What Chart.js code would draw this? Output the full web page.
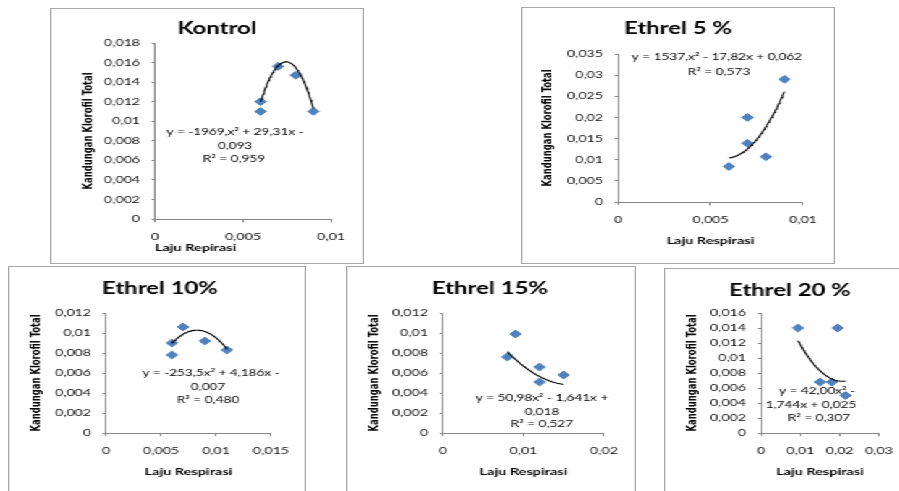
<!DOCTYPE html>
<html>
<head>
<meta charset="utf-8">
<script src="https://cdn.jsdelivr.net/npm/chart.js@4.4.1/dist/chart.umd.min.js"></script>
<style>
  html, body { margin: 0; padding: 0; background: #fff; width: 899px; height: 491px; overflow: hidden; }
  .panel { position: absolute; transform-origin: 0 0; background: #fff; }
  .panel canvas { position: absolute; left: 0; top: 0; }
  .frame { position: absolute; left: 0; top: 0; right: 0; bottom: 0; border: 1px solid #a8a8a8; pointer-events: none; }
</style>
</head>
<body>
<script>
// Laju respirasi (x) vs kandungan klorofil total (y), per perlakuan
const kontrolX = [0.006, 0.006, 0.007, 0.008, 0.009];
const kontrolY = [0.012, 0.011, 0.0156, 0.0147, 0.011];
const kontrolCoef = [-1969, 29.31, -0.093];           // a, b, c of a·x² + b·x + c
const kontrolEq = ['y = -1969,x² + 29,31x -', '0,093', 'R² = 0,959'];
const kontrolXTicks = [0, 0.005, 0.01];
const kontrolYTicks = [0, 0.002, 0.004, 0.006, 0.008, 0.01, 0.012, 0.014, 0.016, 0.018];

const e5X = [0.006, 0.007, 0.007, 0.008, 0.009];
const e5Y = [0.0084, 0.020, 0.0139, 0.0107, 0.029];
const e5Coef = [1537, -17.82, 0.062];
const e5Eq = ['y = 1537,x² - 17,82x + 0,062', 'R² = 0,573'];
const e5XTicks = [0, 0.005, 0.01];
const e5YTicks = [0, 0.005, 0.01, 0.015, 0.02, 0.025, 0.03, 0.035];

const e10X = [0.006, 0.006, 0.007, 0.009, 0.011];
const e10Y = [0.009, 0.0078, 0.0106, 0.0092, 0.0083];
const e10Coef = [-253.5, 4.186, -0.007];
const e10Eq = ['y = -253,5x² + 4,186x -', '0,007', 'R² = 0,480'];
const e10XTicks = [0, 0.005, 0.01, 0.015];
const e10YTicks = [0, 0.002, 0.004, 0.006, 0.008, 0.01, 0.012];

const e15X = [0.008, 0.009, 0.012, 0.012, 0.015];
const e15Y = [0.0076, 0.0099, 0.0066, 0.0051, 0.0058];
const e15Coef = [50.98, -1.641, 0.018];
const e15Eq = ['y = 50,98x² - 1,641x +', '0,018', 'R² = 0,527'];
const e15XTicks = [0, 0.01, 0.02];
const e15YTicks = [0, 0.002, 0.004, 0.006, 0.008, 0.01, 0.012];

const e20X = [0.0094, 0.0195, 0.015, 0.018, 0.0215];
const e20Y = [0.014, 0.014, 0.0068, 0.0068, 0.005];
const e20Coef = [42.00, -1.744, 0.025];
const e20Eq = ['y = 42,00x² -', '1,744x + 0,025', 'R² = 0,307'];
const e20XTicks = [0, 0.01, 0.02, 0.03];
const e20YTicks = [0, 0.002, 0.004, 0.006, 0.008, 0.01, 0.012, 0.014, 0.016];

const yAxisTitle = 'Kandungan Klorofil Total';

// Charts are drawn narrow and widened horizontally, giving the broad lettering.
const STRETCH = 1.45;
const FONT = "Lato, 'DejaVu Sans', sans-serif";
const Y_TITLE_FONT = "'DejaVu Sans Condensed', 'DejaVu Sans', sans-serif";
const AXIS_GREY = '#868686';

Chart.defaults.font.family = FONT;

const panels = [
  { title: 'Kontrol', xs: kontrolX, ys: kontrolY, coef: kontrolCoef, eq: kontrolEq,
    xTicks: kontrolXTicks, yTicks: kontrolYTicks, xTitle: 'Laju Repirasi', xTitleAlign: 'start',
    box: [50, 8, 314, 256], area: [155, 43, 331, 219], titlePos: [217, 29],
    yTitleX: 88, xTitleY: 248, eqPos: [[235, 132], [235, 146], [234, 159]] },
  { title: 'Ethrel 5 %', xs: e5X, ys: e5Y, coef: e5Coef, eq: e5Eq,
    xTicks: e5XTicks, yTicks: e5YTicks, xTitle: 'Laju Respirasi', xTitleAlign: 'center',
    box: [521, 7, 314, 257], area: [618, 54, 803, 202], titlePos: [678, 29],
    yTitleX: 548, xTitleY: 241, eqPos: [[717, 57], [719, 72]] },
  { title: 'Ethrel 10%', xs: e10X, ys: e10Y, coef: e10Coef, eq: e10Eq,
    xTicks: e10XTicks, yTicks: e10YTicks, xTitle: 'Laju Respirasi', xTitleAlign: 'center',
    box: [8, 266, 298, 234], area: [106, 313, 271, 433], titlePos: [160, 289],
    yTitleX: 36, xTitleY: 472, eqPos: [[211, 373], [208, 387], [208, 400]] },
  { title: 'Ethrel 15%', xs: e15X, ys: e15Y, coef: e15Coef, eq: e15Eq,
    xTicks: e15XTicks, yTicks: e15YTicks, xTitle: 'Laju Respirasi', xTitleAlign: 'center',
    box: [346, 266, 290, 234], area: [443, 313, 604, 433], titlePos: [490, 289],
    yTitleX: 375, xTitleY: 472, eqPos: [[542, 398], [542, 412], [542, 424]] },
  { title: 'Ethrel 20 %', xs: e20X, ys: e20Y, coef: e20Coef, eq: e20Eq,
    xTicks: e20XTicks, yTicks: e20YTicks, xTitle: 'Laju Respirasi', xTitleAlign: 'center',
    box: [664, 268, 246, 232], area: [761, 313, 879, 433], titlePos: [790, 291],
    yTitleX: 693, xTitleY: 472, eqPos: [[817, 391], [811, 405], [819, 418]] }
];

function fmtTick(v) {
  if (v === 0) return '0';
  return String(parseFloat(Number(v).toFixed(4))).replace('.', ',');
}

// Polynomial trendline through the stated coefficients, across the data's x range
function trendPoints(coef, xs) {
  const lo = Math.min(...xs), hi = Math.max(...xs);
  const pts = [];
  const n = 60;
  for (let i = 0; i <= n; i++) {
    const x = lo + (hi - lo) * i / n;
    pts.push({ x, y: coef[0] * x * x + coef[1] * x + coef[2] });
  }
  return pts;
}

function buildPanel(p) {
  const [L, T, W, H] = p.box;
  const cw = Math.round(W / STRETCH);
  const sx = W / cw;
  const ux = px => (px - L) / sx;
  const uy = py => py - T;

  const wrap = document.createElement('div');
  wrap.className = 'panel';
  wrap.style.left = L + 'px';
  wrap.style.top = T + 'px';
  wrap.style.width = cw + 'px';
  wrap.style.height = H + 'px';
  wrap.style.transform = 'scaleX(' + sx + ')';
  const canvas = document.createElement('canvas');
  canvas.width = cw;
  canvas.height = H;
  canvas.style.width = cw + 'px';
  canvas.style.height = H + 'px';
  wrap.appendChild(canvas);
  const frame = document.createElement('div');
  frame.className = 'frame';
  wrap.appendChild(frame);
  document.body.appendChild(wrap);

  const aL = ux(p.area[0]), aT = uy(p.area[1]), aR = ux(p.area[2]), aB = uy(p.area[3]);
  const tickFont = { size: 9.8 };
  const xTitleFont = { size: 10, weight: 'bold' };
  const yTitleFont = { family: Y_TITLE_FONT, size: 9.4, weight: 'bold' };
  const atLine = 10 * 1.2;
  const ytLine = 9.4 * 1.2;

  const labelsPlugin = {
    id: 'panelText',
    afterDraw(chart) {
      const ctx = chart.ctx;
      ctx.save();
      ctx.fillStyle = '#000';
      ctx.textAlign = 'center';
      ctx.textBaseline = 'middle';
      ctx.font = 'bold 16.5px ' + FONT;
      ctx.fillText(p.title, ux(p.titlePos[0]), uy(p.titlePos[1]));
      ctx.font = '9.4px ' + FONT;
      p.eq.forEach((line, i) => {
        ctx.fillText(line, ux(p.eqPos[i][0]), uy(p.eqPos[i][1]));
      });
      ctx.restore();
    }
  };

  new Chart(canvas, {
    type: 'scatter',
    data: {
      datasets: [
        {
          label: 'Poly.',
          data: trendPoints(p.coef, p.xs),
          showLine: true,
          pointRadius: 0,
          borderColor: '#000',
          borderWidth: 1.1,
          fill: false
        },
        {
          label: p.title,
          data: p.xs.map((x, i) => ({ x, y: p.ys[i] })),
          pointStyle: 'rectRot',
          pointRadius: 3.9,
          backgroundColor: '#4F81BD',
          borderColor: '#4F81BD',
          borderWidth: 1
        }
      ]
    },
    options: {
      responsive: false,
      animation: false,
      events: [],
      layout: { padding: { left: 0, top: aT, right: cw - aR, bottom: 0 } },
      plugins: { legend: { display: false }, tooltip: { enabled: false }, title: { display: false } },
      scales: {
        x: {
          type: 'linear',
          position: 'bottom',
          min: p.xTicks[0],
          max: p.xTicks[p.xTicks.length - 1],
          afterBuildTicks: s => { s.ticks = p.xTicks.map(v => ({ value: v })); },
          afterFit: s => { s.height = H - aB; },
          ticks: { callback: fmtTick, padding: 9, color: '#111', font: tickFont, maxRotation: 0, autoSkip: false },
          grid: { display: true, drawOnChartArea: false, drawTicks: true, tickLength: 3.3, color: AXIS_GREY },
          border: { display: true, color: AXIS_GREY, width: 1 },
          title: {
            display: true, text: p.xTitle, align: p.xTitleAlign, color: '#000', font: xTitleFont,
            padding: { top: 0, bottom: H - uy(p.xTitleY) - atLine / 2 }
          }
        },
        y: {
          type: 'linear',
          position: 'left',
          min: p.yTicks[0],
          max: p.yTicks[p.yTicks.length - 1],
          afterBuildTicks: s => { s.ticks = p.yTicks.map(v => ({ value: v })); },
          afterFit: s => { s.width = aL; },
          ticks: { callback: fmtTick, padding: 8, color: '#111', font: tickFont, autoSkip: false },
          grid: { display: true, drawOnChartArea: false, drawTicks: true, tickLength: 2.3, color: AXIS_GREY },
          border: { display: true, color: AXIS_GREY, width: 1 },
          title: {
            display: true, text: yAxisTitle, color: '#000', font: yTitleFont,
            padding: { top: ux(p.yTitleX) - ytLine / 2, bottom: 0 }
          }
        }
      }
    },
    plugins: [labelsPlugin]
  });
}

panels.forEach(buildPanel);
</script>
</body>
</html>
